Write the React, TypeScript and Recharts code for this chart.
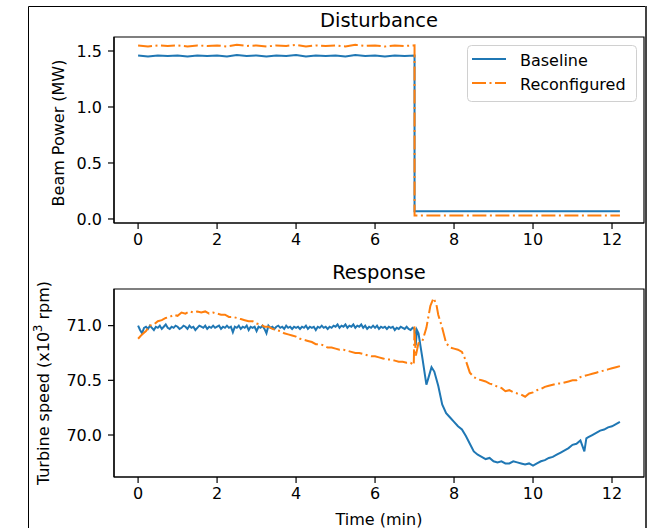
import React from 'react';
import { LineChart, Line, XAxis, YAxis, ReferenceArea } from 'recharts';

// ---------- data ----------
const xTicks = [0, 2, 4, 6, 8, 10, 12];
const topYTicks = [0, 0.5, 1.0, 1.5];
const bottomYTicks = [70.0, 70.5, 71.0];

// Disturbance (beam power, MW)
const disturbanceTime = [0, 0.25, 0.5, 0.75, 1, 1.25, 1.5, 1.75, 2, 2.25, 2.5, 2.75, 3, 3.25, 3.5, 3.75, 4, 4.25, 4.5, 4.75, 5, 5.25, 5.5, 5.75, 6, 6.25, 6.5, 6.75, 7, 7, 12.2];
const disturbanceBaseline = [1.46, 1.45, 1.46, 1.455, 1.46, 1.45, 1.46, 1.455, 1.46, 1.45, 1.465, 1.455, 1.46, 1.45, 1.46, 1.455, 1.465, 1.45, 1.46, 1.455, 1.46, 1.45, 1.465, 1.455, 1.46, 1.45, 1.46, 1.455, 1.46, 0.07, 0.07];
const disturbanceReconfigured = [1.55, 1.54, 1.55, 1.545, 1.55, 1.54, 1.55, 1.545, 1.55, 1.54, 1.555, 1.545, 1.55, 1.54, 1.55, 1.545, 1.555, 1.54, 1.55, 1.545, 1.55, 1.54, 1.555, 1.545, 1.55, 1.54, 1.55, 1.545, 1.55, 0.03, 0.03];

// Response (turbine speed, x10^3 rpm)
const responseTimeBaseline = [
  0, 0.05, 0.1, 0.15, 0.2, 0.25, 0.3, 0.35, 0.4, 0.45, 0.5, 0.55, 0.6, 0.65, 0.7, 0.75, 0.8, 0.85, 0.9, 0.95,
  1, 1.05, 1.1, 1.15, 1.2, 1.25, 1.3, 1.35, 1.4, 1.45, 1.5, 1.55, 1.6, 1.65, 1.7, 1.75, 1.8, 1.85, 1.9, 1.95,
  2, 2.05, 2.1, 2.15, 2.2, 2.25, 2.3, 2.35, 2.4, 2.45, 2.5, 2.55, 2.6, 2.65, 2.7, 2.75, 2.8, 2.85, 2.9, 2.95,
  3, 3.05, 3.1, 3.15, 3.2, 3.25, 3.3, 3.35, 3.4, 3.45, 3.5, 3.55, 3.6, 3.65, 3.7, 3.75, 3.8, 3.85, 3.9, 3.95,
  4, 4.05, 4.1, 4.15, 4.2, 4.25, 4.3, 4.35, 4.4, 4.45, 4.5, 4.55, 4.6, 4.65, 4.7, 4.75, 4.8, 4.85, 4.9, 4.95,
  5, 5.05, 5.1, 5.15, 5.2, 5.25, 5.3, 5.35, 5.4, 5.45, 5.5, 5.55, 5.6, 5.65, 5.7, 5.75, 5.8, 5.85, 5.9, 5.95,
  6, 6.05, 6.1, 6.15, 6.2, 6.25, 6.3, 6.35, 6.4, 6.45, 6.5, 6.55, 6.6, 6.65, 6.7, 6.75, 6.8, 6.85, 6.9, 6.95,
  7.0,
  7.03, 7.06, 7.1, 7.2, 7.3, 7.35, 7.43, 7.5, 7.6,
  7.7, 7.8, 7.9, 8.0, 8.1, 8.2, 8.3, 8.4, 8.5, 8.6,
  8.7, 8.8, 8.9, 9.0, 9.1, 9.2, 9.3, 9.4, 9.5, 9.6,
  9.7, 9.8, 9.9, 10.0, 10.1, 10.2, 10.3, 10.4, 10.5, 10.6,
  10.7, 10.8, 10.9, 11.0, 11.1, 11.2, 11.3,
  11.35,
  11.4, 11.5, 11.6, 11.7, 11.8, 11.9, 12.0, 12.1, 12.2,
];
const responseBaseline = [
  71.00, 70.96, 70.93, 70.98, 70.99, 70.97, 71.00, 70.98, 70.96, 70.99, 70.98, 71.00, 70.97, 70.99, 71.01, 70.98, 70.97, 70.99, 70.98, 71.00,
  70.99, 70.97, 70.98, 71.00, 70.99, 70.97, 71.00, 70.98, 70.99, 70.96, 70.98, 71.00, 70.99, 70.98, 71.00, 70.97, 70.99, 70.98, 71.00, 70.98,
  70.99, 71.00, 70.97, 70.99, 70.98, 71.00, 70.98, 70.99, 70.94, 70.99, 70.98, 71.00, 70.97, 70.99, 70.98, 71.00, 70.96, 70.99, 70.98, 70.99,
  70.95, 70.99, 70.98, 71.00, 70.97, 70.93, 71.00, 70.98, 70.99, 70.97, 70.99, 71.00, 70.98, 70.99, 70.97, 71.00, 70.98, 70.99, 70.97, 70.99,
  70.98, 70.99, 70.97, 70.99, 70.98, 71.00, 70.97, 70.99, 70.98, 70.99, 70.96, 70.99, 70.98, 71.00, 70.98, 70.99, 70.97, 70.99, 70.98, 71.00,
  70.99, 71.01, 70.98, 71.00, 70.99, 71.01, 70.98, 71.00, 70.99, 71.01, 70.98, 71.00, 70.99, 71.01, 70.98, 71.00, 70.97, 70.99, 70.98, 71.00,
  70.98, 71.00, 70.97, 70.99, 70.98, 70.99, 70.97, 70.99, 70.98, 70.99, 70.96, 70.98, 70.97, 70.99, 70.98, 70.97, 70.99, 70.97, 70.96, 70.98,
  70.97,
  70.82, 70.96, 70.93, 70.70, 70.46, 70.52, 70.62, 70.58, 70.45,
  70.28, 70.20, 70.16, 70.12, 70.08, 70.05, 69.99, 69.92, 69.85, 69.82,
  69.80, 69.78, 69.79, 69.76, 69.75, 69.76, 69.74, 69.74, 69.76, 69.75,
  69.74, 69.73, 69.74, 69.72, 69.74, 69.76, 69.77, 69.79, 69.80, 69.82,
  69.84, 69.86, 69.88, 69.91, 69.92, 69.95, 69.85,
  69.97,
  69.98, 70.00, 70.02, 70.04, 70.05, 70.07, 70.08, 70.10, 70.12,
];

const responseTimeReconfigured = [
  0, 0.1, 0.2, 0.3, 0.4, 0.5, 0.6, 0.7, 0.8, 0.9,
  1.0, 1.1, 1.2, 1.3, 1.4, 1.5, 1.6, 1.7, 1.8, 1.9,
  2.0, 2.1, 2.2, 2.3, 2.4, 2.5, 2.6, 2.7, 2.8, 2.9,
  3.0, 3.1, 3.2, 3.3, 3.4, 3.5, 3.6, 3.7, 3.8, 3.9,
  4.0, 4.1, 4.2, 4.3, 4.4, 4.5, 4.6, 4.7, 4.8, 4.9,
  5.0, 5.1, 5.2, 5.3, 5.4, 5.5, 5.6, 5.7, 5.8, 5.9,
  6.0, 6.1, 6.2, 6.3, 6.4, 6.5, 6.6, 6.7, 6.8, 6.9,
  6.98, 7.0, 7.03, 7.1, 7.2, 7.3, 7.4, 7.48, 7.55, 7.6,
  7.7, 7.8, 7.9, 8.0, 8.1, 8.2, 8.3, 8.4, 8.5, 8.6,
  8.7, 8.8, 8.9, 9.0, 9.1, 9.2, 9.3, 9.4, 9.5, 9.6,
  9.7, 9.8, 9.9, 10.0, 10.1, 10.2, 10.3, 10.4, 10.5, 10.6,
  10.7, 10.8, 10.9, 11.0, 11.1, 11.2, 11.3, 11.4, 11.5, 11.6,
  11.7, 11.8, 11.9, 12.0, 12.1, 12.2,
];
const responseReconfigured = [
  70.88, 70.92, 70.95, 71.00, 71.01, 71.04, 71.05, 71.07, 71.08, 71.10,
  71.09, 71.12, 71.11, 71.13, 71.12, 71.13, 71.12, 71.13, 71.11, 71.12,
  71.11, 71.10, 71.10, 71.08, 71.08, 71.07, 71.06, 71.05, 71.04, 71.04,
  71.02, 71.01, 70.99, 70.99, 70.97, 70.96, 70.95, 70.93, 70.92, 70.91,
  70.90, 70.88, 70.87, 70.86, 70.85, 70.83, 70.83, 70.82, 70.80, 70.80,
  70.79, 70.78, 70.78, 70.77, 70.76, 70.75, 70.75, 70.74, 70.73, 70.72,
  70.72, 70.71, 70.70, 70.69, 70.69, 70.68, 70.67, 70.67, 70.66, 70.66,
  70.64, 71.00, 70.72, 70.84, 70.86, 70.98, 71.18, 71.25, 71.20, 71.10,
  70.98, 70.84, 70.80, 70.79, 70.78, 70.76, 70.68, 70.57, 70.53, 70.51,
  70.50, 70.49, 70.47, 70.46, 70.44, 70.43, 70.40, 70.41, 70.39, 70.38,
  70.37, 70.35, 70.38, 70.39, 70.41, 70.42, 70.44, 70.45, 70.46, 70.47,
  70.47, 70.48, 70.49, 70.50, 70.50, 70.53, 70.54, 70.55, 70.56, 70.57,
  70.58, 70.59, 70.60, 70.61, 70.62, 70.63,
];

// ---------- styling ----------
const FONT = '"DejaVu Sans", sans-serif';
const FS = 16;
const BLUE = '#1f77b4';
const ORANGE = '#ff7f0e';
const LW = 2.0;
const DASHDOT = '14 3.5 2 3.5';
const X_DOMAIN: [number, number] = [-0.61, 12.81];
const TOP_Y: [number, number] = [-0.036, 1.625];
const BOT_Y: [number, number] = [69.616, 71.335];

const zip = (ts: number[], vs: number[]) => ts.map((t, i) => ({ t, v: vs[i] }));

const distBase = zip(disturbanceTime, disturbanceBaseline);
const distReco = zip(disturbanceTime, disturbanceReconfigured);
const respBase = zip(responseTimeBaseline, responseBaseline);
const respReco = zip(responseTimeReconfigured, responseReconfigured);

const tickStyle = { fill: '#000', fontSize: FS, fontFamily: FONT };

function Panel({ top, height, margin, yDomain, yTicks, base, reco }: any) {
  return (
    <div style={{ position: 'absolute', left: 0, top }}>
      <LineChart width={651} height={height} margin={margin}>
        <XAxis
          type="number"
          dataKey="t"
          domain={X_DOMAIN}
          ticks={xTicks}
          allowDataOverflow
          height={30}
          tickSize={6}
          tickMargin={5}
          stroke="#000"
          axisLine={{ stroke: '#000', strokeWidth: 1.2 }}
          tickLine={{ stroke: '#000', strokeWidth: 1.2 }}
          tick={tickStyle}
        />
        <YAxis
          type="number"
          domain={yDomain}
          ticks={yTicks}
          allowDataOverflow
          width={60}
          tickSize={6}
          tickMargin={6}
          stroke="#000"
          axisLine={{ stroke: '#000', strokeWidth: 1.2 }}
          tickLine={{ stroke: '#000', strokeWidth: 1.2 }}
          tick={tickStyle}
          tickFormatter={(v: number) => v.toFixed(1)}
        />
        <ReferenceArea
          x1={X_DOMAIN[0]}
          x2={X_DOMAIN[1]}
          y1={yDomain[0]}
          y2={yDomain[1]}
          fill="none"
          stroke="#000"
          strokeWidth={1.2}
          ifOverflow="visible"
        />
        <Line data={base} dataKey="v" type="linear" stroke={BLUE} strokeWidth={LW} dot={false} isAnimationActive={false} />
        <Line data={reco} dataKey="v" type="linear" stroke={ORANGE} strokeWidth={LW} strokeDasharray={DASHDOT} dot={false} isAnimationActive={false} />
      </LineChart>
    </div>
  );
}

export default function App() {
  return (
    <div style={{ position: 'absolute', left: 0, top: 0, width: 651, height: 528, overflow: 'hidden', background: '#fff' }}>
      <Panel
        top={0}
        height={260}
        margin={{ top: 37, right: 7, bottom: 7, left: 54 }}
        yDomain={TOP_Y}
        yTicks={topYTicks}
        base={distBase}
        reco={distReco}
      />
      <Panel
        top={260}
        height={268}
        margin={{ top: 29, right: 7, bottom: 21, left: 54 }}
        yDomain={BOT_Y}
        yTicks={bottomYTicks}
        base={respBase}
        reco={respReco}
      />
      <svg width={651} height={528} style={{ position: 'absolute', left: 0, top: 0, pointerEvents: 'none' }} fontFamily={FONT}>
        {/* figure frame */}
        <line x1={28.5} y1={6.5} x2={646} y2={6.5} stroke="#000" strokeWidth={1} />
        <line x1={28.5} y1={6.5} x2={28.5} y2={528} stroke="#000" strokeWidth={1} />
        <line x1={646} y1={6} x2={646} y2={528} stroke="#444" strokeWidth={2} />
        {/* titles */}
        <text x={379} y={27} textAnchor="middle" fontSize={19.5} fill="#000">Disturbance</text>
        <text x={379} y={279} textAnchor="middle" fontSize={19.5} fill="#000">Response</text>
        {/* axis labels */}
        <text x={63.5} y={133} textAnchor="middle" fontSize={FS} fill="#000" transform="rotate(-90 63.5 133)">Beam Power (MW)</text>
        <text x={49} y={383} textAnchor="middle" fontSize={FS} fill="#000" transform="rotate(-90 49 383)">
          Turbine speed (x10<tspan dy={-7} fontSize={11.5}>3</tspan><tspan dy={7}> rpm)</tspan>
        </text>
        <text x={379} y={525} textAnchor="middle" fontSize={FS} fill="#000">Time (min)</text>
        {/* legend */}
        <rect x={467.5} y={45.5} width={169} height={56} rx={4} ry={4} fill="#fff" fillOpacity={0.8} stroke="#d0d0d0" strokeWidth={1} />
        <line x1={472} y1={59} x2={506} y2={59} stroke={BLUE} strokeWidth={LW} />
        <line x1={472} y1={83} x2={506} y2={83} stroke={ORANGE} strokeWidth={LW} strokeDasharray={DASHDOT} />
        <text x={520} y={66} fontSize={FS} fill="#000">Baseline</text>
        <text x={520} y={90} fontSize={FS} fill="#000">Reconfigured</text>
      </svg>
    </div>
  );
}
